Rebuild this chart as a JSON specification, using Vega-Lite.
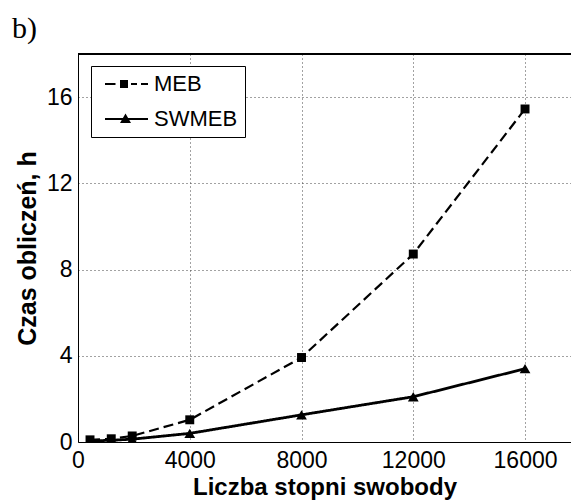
{
  "$schema": "https://vega.github.io/schema/vega-lite/v6.json",
  "width": 493,
  "height": 388,
  "autosize": {"type": "none"},
  "padding": {"left": 78, "top": 54, "right": 0, "bottom": 58},
  "background": "white",
  "config": {"view": {"stroke": null}, "font": "Liberation Sans"},
  "title": {"text": "b)", "anchor": "start", "frame": "group", "dx": -66, "dy": 29, "offset": 15, "font": "Liberation Serif", "fontSize": 30, "fontWeight": "normal", "baseline": "alphabetic", "color": "black"},
  "data": {"values": [
    {"series": "MEB", "x": 430, "y": 0.10},
    {"series": "MEB", "x": 1190, "y": 0.15},
    {"series": "MEB", "x": 1940, "y": 0.28},
    {"series": "MEB", "x": 4000, "y": 1.03},
    {"series": "MEB", "x": 8000, "y": 3.92},
    {"series": "MEB", "x": 12000, "y": 8.72},
    {"series": "MEB", "x": 16000, "y": 15.45},
    {"series": "SWMEB", "x": 430, "y": 0.05},
    {"series": "SWMEB", "x": 1190, "y": 0.08},
    {"series": "SWMEB", "x": 1940, "y": 0.13},
    {"series": "SWMEB", "x": 4000, "y": 0.40},
    {"series": "SWMEB", "x": 8000, "y": 1.26},
    {"series": "SWMEB", "x": 12000, "y": 2.10},
    {"series": "SWMEB", "x": 16000, "y": 3.40}
  ]},
  "encoding": {
    "x": {"field": "x", "type": "quantitative",
      "scale": {"domain": [0, 17645], "nice": false, "zero": false},
      "axis": {"values": [0, 4000, 8000, 12000, 16000], "format": "d", "title": "Liczba stopni swobody",
        "labelFontSize": 23, "labelColor": "black", "labelFont": "Liberation Sans", "labelFlush": false, "labelPadding": 7,
        "ticks": false, "domainColor": "black", "domainWidth": 1,
        "grid": true, "gridColor": "#444", "gridDash": [1, 3], "gridWidth": 1, "gridOpacity": 1,
        "titleFont": "Liberation Sans", "titleFontSize": 24, "titleFontWeight": "bold", "titleColor": "black",
        "titleBaseline": "alphabetic", "titleY": 52}},
    "y": {"field": "y", "type": "quantitative",
      "scale": {"domain": [0, 18], "nice": false},
      "axis": {"values": [0, 4, 8, 12, 16], "title": "Czas obliczeń, h",
        "labelFontSize": 23, "labelColor": "black", "labelFont": "Liberation Sans", "labelFlush": false, "labelPadding": 6,
        "ticks": false, "domainColor": "black", "domainWidth": 1,
        "grid": true, "gridColor": "#444", "gridDash": [1, 3], "gridWidth": 1, "gridOpacity": 1,
        "titleFont": "Liberation Sans", "titleFontSize": 25, "titleFontWeight": "bold", "titleColor": "black",
        "titleBaseline": "alphabetic", "titleX": -43}}
  },
  "layer": [
    {"mark": {"type": "rule", "color": "black", "strokeWidth": 1},
     "encoding": {"y": {"datum": 18}, "x": null}},
    {"mark": {"type": "line", "color": "black", "clip": true},
     "encoding": {
       "detail": {"field": "series", "type": "nominal"},
       "strokeDash": {"condition": {"test": "datum.series === 'MEB'", "value": [10, 5]}, "value": [1, 0]},
       "strokeWidth": {"condition": {"test": "datum.series === 'MEB'", "value": 2.2}, "value": 2.8}
     }},
    {"mark": {"type": "point", "filled": true, "color": "black", "opacity": 1, "clip": true},
     "encoding": {
       "size": {"condition": {"test": "datum.series === 'MEB'", "value": 80}, "value": 115},
       "shape": {"condition": {"test": "datum.series === 'MEB'", "value": "square"}, "value": "triangle-up"}
     }},
    {"transform": [{"filter": "datum.x < 0"}],
     "mark": {"type": "point", "fill": "black", "stroke": "black", "strokeWidth": 0, "opacity": 1, "size": 400},
     "encoding": {
       "shape": {"field": "series", "type": "nominal",
         "scale": {"domain": ["MEB", "SWMEB"], "range": [
           "M-2.15,-0.1H-1.1V0.1H-2.15ZM-0.65,-0.4H0.15V0.4H-0.65ZM0.45,-0.1H1.05V0.1H0.45ZM1.45,-0.1H2.15V0.1H1.45Z",
           "M-2.15,-0.1H2.15V0.1H-2.15ZM-0.65,0.4L-0.1,-0.55L0.45,0.4Z"]},
         "legend": {"title": null, "orient": "none", "legendX": 13, "legendY": 12,
           "strokeColor": "black", "fillColor": "white", "padding": 7, "cornerRadius": 0,
           "labelFont": "Liberation Sans", "labelFontSize": 22, "labelColor": "black", "labelOffset": 16.5,
           "rowPadding": 13, "symbolSize": 400, "symbolFillColor": "black", "symbolStrokeColor": "black", "symbolStrokeWidth": 0, "symbolOpacity": 1, "symbolOffset": 17.5}}
     }}
  ]
}
